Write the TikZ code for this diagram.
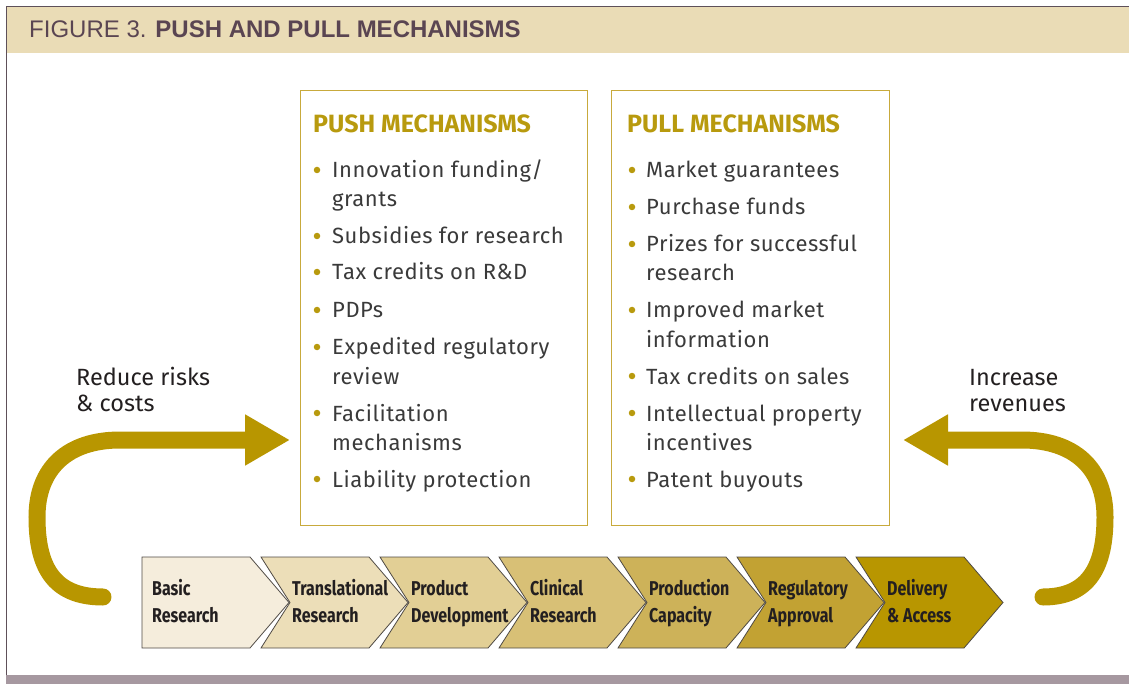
\documentclass[tikz,border=0pt]{standalone}
\usepackage{fontspec}
\setmainfont{Fira Sans}
\newfontfamily\titlefont{Liberation Sans}
\newfontfamily\itemfont[LetterSpace=2.5]{Fira Sans}
\newfontfamily\condfont[FakeStretch=0.8]{Fira Sans}
\usepackage{tikz}
\usetikzlibrary{arrows.meta}
\usepackage{xcolor}
\definecolor{bandbeige}{HTML}{EADCB6}
\definecolor{titlepurple}{HTML}{5A4552}
\definecolor{footgray}{HTML}{A698A0}
\definecolor{framegray}{HTML}{5E5059}
\definecolor{flowgold}{HTML}{B89600}
\definecolor{headgold}{HTML}{B89A0E}
\definecolor{boxline}{HTML}{C8AA3C}
\definecolor{itemgray}{HTML}{3A3A3A}
\definecolor{darktext}{HTML}{231F20}
\definecolor{stageline}{HTML}{4F4A44}
\definecolor{stageA}{HTML}{F5EDDC}
\definecolor{stageB}{HTML}{ECDEB8}
\definecolor{stageC}{HTML}{E2CF95}
\definecolor{stageD}{HTML}{D8C076}
\definecolor{stageE}{HTML}{CDB259}
\definecolor{stageF}{HTML}{C2A233}
\definecolor{stageG}{HTML}{B89600}

\begin{document}
\begin{tikzpicture}[x=1pt,y=-1pt,
    mechbox/.style={draw=boxline, line width=1pt, inner sep=0pt},
    mechhead/.style={anchor=base west, inner sep=0pt, text=headgold,
        font=\fontsize{25}{25}\selectfont\bfseries},
    item/.style={anchor=base west, inner sep=0pt, text=itemgray,
        font=\itemfont\fontsize{22}{22}\selectfont},
    dot/.style={circle, fill=headgold, minimum size=6.5pt, inner sep=0pt},
    stage/.style={draw=stageline, line width=0.8pt, line join=miter},
    stagetext/.style={anchor=base west, inner sep=0pt, text=darktext,
        font=\condfont\bfseries\fontsize{20}{20}\selectfont},
    flow/.style={draw=flowgold, line width=17pt, line cap=round,
        -{Triangle[length=45pt,width=48pt]}},
    side/.style={anchor=base west, inner sep=0pt, text=darktext,
        font=\fontsize{23.5}{23.5}\selectfont}]
    \useasboundingbox (0,0) rectangle (1129,684);
    % frame and title band
    \fill[bandbeige] (6,7) rectangle (1129,53);
    \fill[footgray] (6,675) rectangle (1129,684);
    \draw[framegray, line width=1pt] (6,675) -- (6,7) -- (1129,7);
    \node[anchor=base west, inner sep=0pt, text=titlepurple,
        font=\titlefont\fontsize{24}{24}\selectfont] (title) at (29,38)
        {FIGURE 3. \textbf{PUSH AND PULL MECHANISMS}};
    % boxes
    \node[mechbox, minimum width=287pt, minimum height=435pt] (pushbox) at (443.5,308) {};
    \node[mechbox, minimum width=278pt, minimum height=435pt] (pullbox) at (750,308) {};
    \node[mechhead] (pushhead) at (313,133) {PUSH MECHANISMS};
    \node[mechhead] (pullhead) at (627,133) {PULL MECHANISMS};
    \foreach \y/\b/\t in {178/1/{Innovation funding/}, 207/0/grants,
        244/1/{Subsidies for research}, 280/1/{Tax credits on R\&D},
        318/1/PDPs, 355/1/{Expedited regulatory}, 384/0/review,
        421/1/Facilitation, 450/0/mechanisms, 487/1/{Liability protection}} {
        \node[item] (push\y) at (332,\y) {\t};
        \ifnum\b=1 \node[dot] (pushdot\y) at (317,\y-8) {}; \fi
    }
    \foreach \y/\b/\t in {178/1/{Market guarantees}, 215/1/{Purchase funds},
        252/1/{Prizes for successful}, 281/0/research,
        318/1/{Improved market}, 347/0/information,
        384/1/{Tax credits on sales}, 421/1/{Intellectual property},
        450/0/incentives, 487/1/{Patent buyouts}} {
        \node[item] (pull\y) at (646,\y) {\t};
        \ifnum\b=1 \node[dot] (pulldot\y) at (632,\y-8) {}; \fi
    }
    % stages
    \foreach \i/\col/\a/\b in {0/stageA/Basic/Research, 1/stageB/Translational/Research,
        2/stageC/Product/Development, 3/stageD/Clinical/Research,
        4/stageE/Production/Capacity, 5/stageF/Regulatory/Approval,
        6/stageG/Delivery/{\& Access}} {
        \pgfmathsetmacro\xl{142+119*\i}
        \ifnum\i=0
            \draw[stage, fill=\col] (\xl,557) -- ++(108,0) -- ++(39,45.5) -- ++(-39,45.5)
                -- ++(-108,0) -- cycle;
            \node[stagetext] (stage\i a) at (\xl+10,595) {\a};
            \node[stagetext] (stage\i b) at (\xl+10,622) {\b};
        \else
            \draw[stage, fill=\col] (\xl,557) -- ++(108,0) -- ++(39,45.5) -- ++(-39,45.5)
                -- ++(-108,0) -- ++(29,-45.5) -- cycle;
            \node[stagetext] (stage\i a) at (\xl+31,595) {\a};
            \node[stagetext] (stage\i b) at (\xl+31,622) {\b};
        \fi
    }
    % arrows
    \coordinate (riskstart) at (103,597);
    \coordinate (risktip) at (290,440);
    \coordinate (revstart) at (1043,597);
    \coordinate (revtip) at (903,440);
    \draw[flow] (riskstart) .. controls (52,597) and (37,565) .. (37,517)
        .. controls (37,468) and (68,440) .. (120,440) -- (risktip);
    \draw[flow] (revstart) .. controls (1090,597) and (1105,565) .. (1105,517)
        .. controls (1105,468) and (1074,440) .. (1022,440) -- (revtip);
    \node[side] (risk1) at (76,385) {Reduce risks};
    \node[side] (risk2) at (76,411) {\& costs};
    \node[side] (rev1) at (969,385) {Increase};
    \node[side] (rev2) at (969,411) {revenues};
\end{tikzpicture}
\end{document}
